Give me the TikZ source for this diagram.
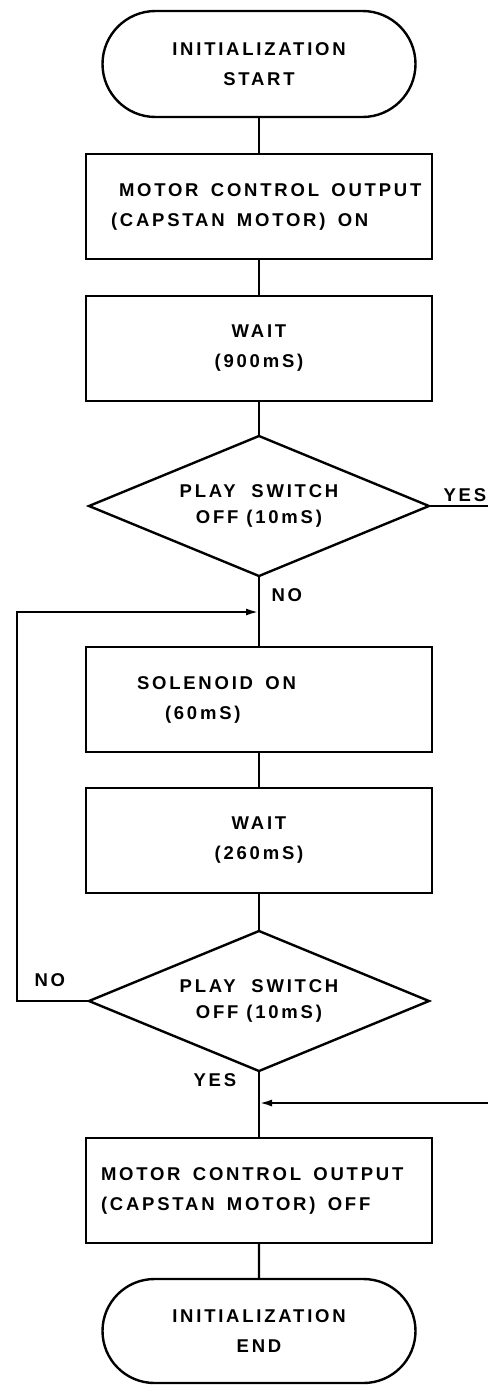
\documentclass[tikz,border=0pt]{standalone}
\usepackage{fontspec}
\setmainfont[LetterSpace=15]{Liberation Sans}
\usetikzlibrary{arrows.meta,positioning,shapes.geometric,shapes.misc}

\begin{document}
\begin{tikzpicture}[x=1pt, y=1pt, node distance=37pt,
  every node/.style={font=\fontsize{18.5}{30}\selectfont\bfseries},
  term/.style={rounded rectangle, draw, line width=2.4pt, minimum width=313pt,
               minimum height=106pt, align=center, inner sep=0pt, outer sep=0pt},
  box/.style={rectangle, draw, line width=2.4pt, minimum width=346pt,
              minimum height=105pt, text width=346pt, inner sep=0pt, outer sep=0pt,
              align=left},
  dec/.style={diamond, draw, line width=2.4pt, aspect=2.43, minimum width=340pt,
              minimum height=140pt, align=center, inner sep=0pt, outer sep=0pt,
              font=\fontsize{18.5}{26}\selectfont\bfseries},
  line/.style={line width=2.4pt},
  arr/.style={line width=2.4pt, -{Latex[length=13pt,width=7pt]}}]
  \useasboundingbox (0,0) rectangle (488,-1385);
  \node[term] (start) at (259,-64) {INITIALIZATION\\START};
  \node[box, below=of start] (mcon) {\hspace*{33pt}MOTOR\ \ CONTROL\ \ OUTPUT\\
    \hspace*{25pt}(CAPSTAN\ \ MOTOR)\ \ ON};
  \node[box, below=of mcon, align=center] (wait1) {WAIT\\(900mS)};
  \node[dec, below=35pt of wait1] (play1) {PLAY\ \ SWITCH\\OFF\ (10mS)};
  \node[box, below=71pt of play1] (sol) {\hspace*{51pt}SOLENOID\ \ ON\\
    \hspace*{79pt}(60mS)};
  \node[box, below=36pt of sol, align=center] (wait2) {WAIT\\(260mS)};
  \node[dec, below=38pt of wait2] (play2) {PLAY\ \ SWITCH\\OFF\ (10mS)};
  \node[box, below=67pt of play2] (mcoff) {\hspace*{15pt}MOTOR\ \ CONTROL\ \ OUTPUT\\
    \hspace*{15pt}(CAPSTAN\ \ MOTOR)\ \ OFF};
  \node[term, below=36pt of mcoff, minimum height=104pt] (finish) {INITIALIZATION\\END};

  % join points and loop corners
  \coordinate (join1) at (play1.south |- 0,-612);
  \coordinate (join2) at (play2.south |- 0,-1103);
  \coordinate (yesout) at (play1.east -| 488,0);
  \coordinate (yesin) at (488,-1103);
  \coordinate (loopx) at (17,0);

  \draw[line] (start) -- (mcon);
  \draw[line] (mcon) -- (wait1);
  \draw[line] (wait1) -- (play1);
  \draw[line] (play1) -- (sol);
  \draw[line] (sol) -- (wait2);
  \draw[line] (wait2) -- (play2);
  \draw[line] (play2) -- (mcoff);
  \draw[line] (mcoff) -- (finish);
  \draw[line] (play1.east) -- (yesout);
  \draw[arr] (play2.west) -- (loopx |- play2.west) |- (join1);
  \draw[arr] (yesin) -- (join2);

  \node[anchor=south west] (yes1) at (440,-505) {YES};
  \node[anchor=west] (no1) at (268,-595) {NO};
  \node[anchor=west] (no2) at (31,-980) {NO};
  \node[anchor=west] (yes2) at (190,-1080) {YES};
\end{tikzpicture}
\end{document}
